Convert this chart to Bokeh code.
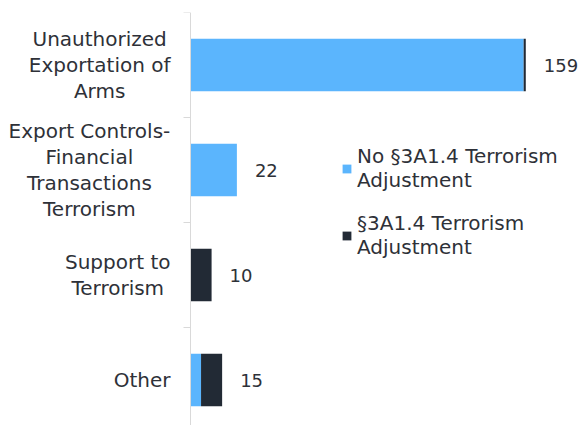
from bokeh.plotting import figure
from bokeh.models import (Range1d, FixedTicker, ColumnDataSource, LabelSet, Legend, LegendItem)
from bokeh.core.properties import value
from bokeh.embed import file_html
from bokeh.resources import INLINE

categories = ["Unauthorized\nExportation of\nArms",
              "Export Controls-\nFinancial\nTransactions\nTerrorism",
              "Support to\nTerrorism",
              "Other"]
no_adjustment = [158, 22, 0, 5]
adjustment = [1, 0, 10, 10]
totals = [159, 22, 10, 15]
series_names = ["No §3A1.4 Terrorism\nAdjustment", "§3A1.4 Terrorism\nAdjustment"]
colors = ["#5BB5FD", "#222A35"]

FONT = "DejaVu Sans"
TEXT = "#2E3138"
CAT_SIZE = 20

# DejaVu Sans advance widths (units per em = 2048), used to centre label lines
ADV = {" ": 651, "-": 739, "A": 1401, "C": 1430, "E": 1294, "F": 1178, "O": 1612,
       "S": 1300, "T": 1251, "U": 1499, "a": 1255, "c": 1126, "d": 1300, "e": 1260,
       "f": 721, "h": 1298, "i": 569, "l": 569, "m": 1995, "n": 1298, "o": 1253,
       "p": 1300, "r": 842, "s": 1067, "t": 803, "u": 1298, "x": 1212, "z": 1075}


def text_width(s, size):
    return sum(ADV.get(ch, 1200) for ch in s) / 2048 * size


W, H = 578, 425
TOP = 12
AXIS_PX = 190          # screen x of the value axis
X_MAX = 184
n = len(categories)
Y_MIN = 0.067

px_x = (W - AXIS_PX) / X_MAX           # px per x unit
x_min = -AXIS_PX / px_x
px_y = (H - TOP) / (n - Y_MIN)         # px per category band

ypos = [n - i - 0.5 for i in range(n)]

src = ColumnDataSource(dict(
    y=ypos,
    a_end=no_adjustment,
    b_end=[a + b for a, b in zip(no_adjustment, adjustment)],
    total=totals,
    total_txt=[str(t) for t in totals],
))

p = figure(width=W, height=H, output_backend="svg", toolbar_location=None,
           x_range=Range1d(x_min, X_MAX), y_range=Range1d(Y_MIN, n),
           min_border_left=0, min_border_right=0, min_border_top=TOP, min_border_bottom=0)
p.outline_line_color = None
p.xaxis.visible = False
p.xgrid.visible = False
p.ygrid.visible = False

r1 = p.hbar(y="y", left=0, right="a_end", height=0.5, source=src, color=colors[0], line_color=None)
r2 = p.hbar(y="y", left="a_end", right="b_end", height=0.5, source=src, color=colors[1], line_color=None)

ax = p.yaxis[0]
ax.fixed_location = 0
ax.ticker = FixedTicker(ticks=[], minor_ticks=list(range(1, n + 1)))
ax.axis_line_color = "#D9D9D9"
ax.axis_line_width = 1
ax.major_tick_line_color = None
ax.major_tick_out = 0
ax.major_tick_in = 0
ax.minor_tick_line_color = "#D9D9D9"
ax.minor_tick_out = 7
ax.minor_tick_in = 0
ax.major_label_standoff = 0
ax.major_label_text_font_size = "0px"

# category labels: block right-aligned 20px left of the axis, lines centred
LINE = 26
lx, ly, lt = [], [], []
for i, cat in enumerate(categories):
    lines = cat.split("\n")
    bw = max(text_width(l, CAT_SIZE) for l in lines)
    cx = -(20 + bw / 2) / px_x
    L = len(lines)
    for k, line in enumerate(lines):
        lx.append(cx)
        ly.append(ypos[i] - (k - (L - 1) / 2) * LINE / px_y)
        lt.append(line)
p.text(x=lx, y=ly, text=lt, text_align="center", text_baseline="middle",
       text_font=value(FONT), text_font_size=f"{CAT_SIZE}px", text_color=TEXT)

labels = LabelSet(x="total", y="y", text="total_txt", source=src, x_offset=18,
                  text_baseline="middle", text_align="left",
                  text_font=value(FONT), text_font_size=value("18px"), text_color=TEXT)
p.add_layout(labels)

legend = Legend(items=[LegendItem(label=series_names[0], renderers=[r1]),
                       LegendItem(label=series_names[1], renderers=[r2])],
                location=(341, 166), orientation="vertical",
                glyph_width=11, glyph_height=11, label_standoff=5, spacing=19,
                padding=0, margin=0, border_line_color=None, background_fill_alpha=0,
                label_text_font=FONT, label_text_font_size="20px",
                label_text_line_height=1.25, label_text_color=TEXT)
p.add_layout(legend)

open("out.html", "w").write(file_html(p, INLINE))
